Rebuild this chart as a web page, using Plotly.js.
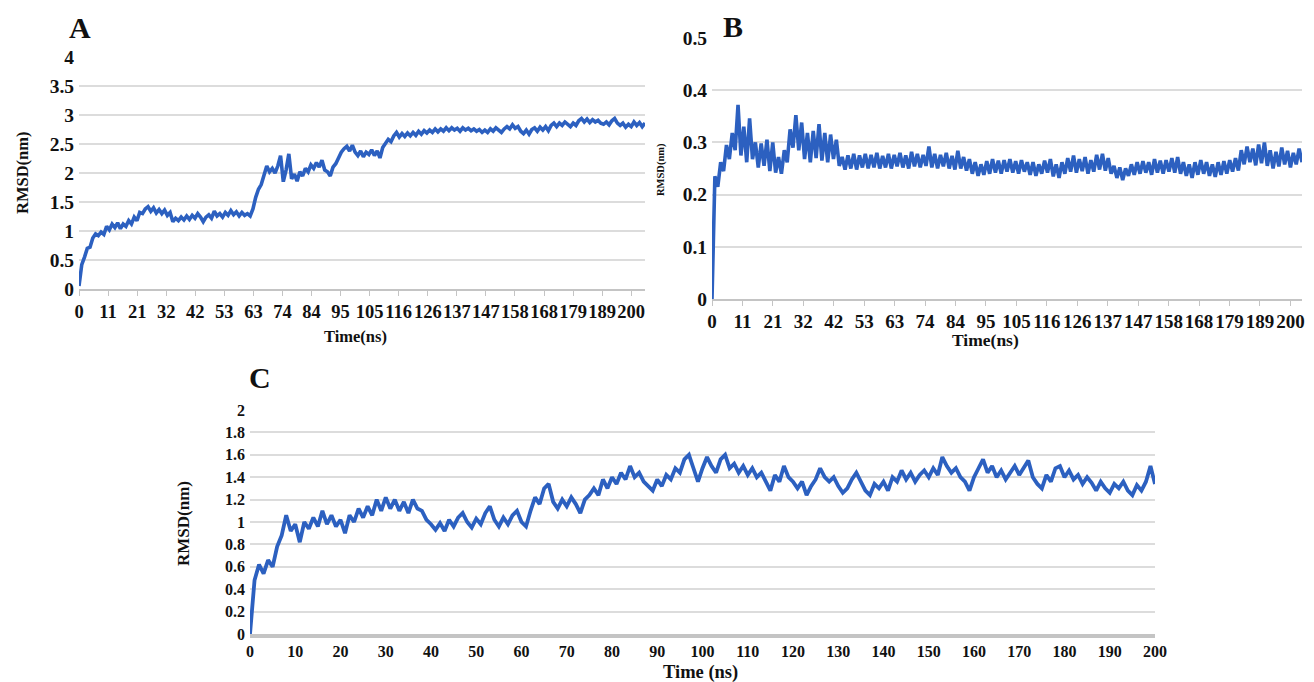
<!DOCTYPE html>
<html>
<head>
<meta charset="utf-8">
<script src="https://cdn.plot.ly/plotly-3.0.1.min.js"></script>
<style>html,body{margin:0;padding:0;background:#fff;}#chart{width:1314px;height:682px;}</style>
</head>
<body>
<div id="chart"></div>
<script>
// ---- Data (RMSD in nm, one value per ns) ----
const stepNs = 1;
const rmsdA = [0.05,0.42,0.55,0.70,0.72,0.88,0.95,0.92,0.98,0.94,1.08,1.02,1.12,1.06,1.14,1.04,1.12,1.08,1.18,1.12,
1.24,1.18,1.32,1.30,1.38,1.42,1.34,1.40,1.31,1.37,1.30,1.36,1.27,1.32,1.16,1.22,1.18,1.24,1.19,1.26,
1.20,1.27,1.22,1.30,1.24,1.16,1.24,1.28,1.22,1.34,1.26,1.30,1.24,1.32,1.27,1.35,1.28,1.33,1.26,1.32,
1.27,1.30,1.26,1.38,1.58,1.72,1.80,1.95,2.12,2.02,2.08,2.00,2.12,2.30,1.85,2.05,2.33,1.90,1.98,1.86,
2.02,1.95,2.08,2.02,2.14,2.08,2.18,2.10,2.22,2.05,2.02,1.95,2.10,2.16,2.28,2.36,2.42,2.46,2.38,2.48,
2.36,2.30,2.38,2.28,2.36,2.32,2.40,2.30,2.38,2.26,2.44,2.50,2.58,2.54,2.64,2.70,2.62,2.68,2.63,2.69,
2.64,2.70,2.65,2.72,2.67,2.73,2.69,2.74,2.70,2.76,2.71,2.76,2.72,2.78,2.73,2.78,2.74,2.77,2.72,2.78,
2.74,2.77,2.73,2.76,2.72,2.75,2.70,2.74,2.70,2.76,2.72,2.78,2.74,2.70,2.76,2.80,2.76,2.83,2.77,2.80,
2.72,2.68,2.74,2.67,2.75,2.78,2.72,2.79,2.74,2.80,2.73,2.82,2.86,2.80,2.86,2.82,2.88,2.84,2.80,2.86,
2.82,2.90,2.94,2.88,2.93,2.87,2.92,2.88,2.91,2.86,2.84,2.88,2.83,2.90,2.94,2.86,2.82,2.86,2.79,2.84,
2.80,2.88,2.82,2.87,2.80,2.86];

const rmsdB = [0,0.235,0.215,0.262,0.245,0.295,0.268,0.318,0.285,0.372,0.275,0.330,0.262,0.346,0.268,0.300,0.252,0.298,0.255,0.305,
0.245,0.300,0.242,0.272,0.240,0.285,0.262,0.325,0.290,0.352,0.285,0.338,0.268,0.318,0.262,0.322,0.270,0.335,0.265,0.318,
0.262,0.315,0.268,0.305,0.255,0.272,0.248,0.275,0.250,0.278,0.248,0.275,0.252,0.278,0.250,0.276,0.252,0.280,0.250,0.274,
0.252,0.278,0.250,0.276,0.254,0.280,0.252,0.275,0.250,0.282,0.254,0.278,0.252,0.276,0.255,0.292,0.252,0.278,0.250,0.276,
0.254,0.280,0.250,0.274,0.248,0.284,0.250,0.272,0.246,0.268,0.240,0.262,0.236,0.258,0.238,0.264,0.240,0.268,0.242,0.265,
0.240,0.266,0.244,0.268,0.242,0.264,0.240,0.266,0.244,0.262,0.238,0.262,0.236,0.258,0.240,0.265,0.242,0.268,0.235,0.258,
0.232,0.262,0.240,0.270,0.244,0.275,0.242,0.268,0.245,0.272,0.240,0.266,0.244,0.276,0.248,0.278,0.246,0.270,0.240,0.255,
0.232,0.252,0.228,0.250,0.236,0.258,0.238,0.262,0.240,0.264,0.242,0.262,0.238,0.268,0.242,0.265,0.240,0.266,0.244,0.270,
0.242,0.272,0.240,0.262,0.236,0.258,0.232,0.262,0.238,0.266,0.240,0.262,0.236,0.258,0.234,0.262,0.238,0.264,0.240,0.266,
0.244,0.270,0.246,0.285,0.258,0.292,0.262,0.288,0.256,0.296,0.260,0.300,0.255,0.285,0.250,0.282,0.254,0.290,0.258,0.284,
0.252,0.280,0.258,0.288,0.262];

const rmsdC = [0.00,0.48,0.62,0.54,0.66,0.60,0.78,0.88,1.06,0.92,0.98,0.82,1.00,0.94,1.04,0.96,1.10,0.98,1.06,0.96,
1.02,0.90,1.06,1.00,1.12,1.04,1.14,1.06,1.20,1.10,1.22,1.12,1.20,1.10,1.18,1.08,1.20,1.12,1.10,1.02,
0.98,0.93,0.99,0.92,1.02,0.96,1.04,1.08,1.00,0.95,1.03,0.98,1.08,1.14,1.02,0.96,1.04,0.98,1.06,1.10,
1.00,0.96,1.10,1.22,1.16,1.30,1.34,1.18,1.12,1.20,1.14,1.22,1.16,1.08,1.20,1.24,1.30,1.24,1.38,1.30,
1.40,1.34,1.44,1.38,1.50,1.40,1.44,1.36,1.32,1.28,1.38,1.32,1.42,1.38,1.48,1.44,1.56,1.60,1.48,1.36,
1.48,1.58,1.50,1.44,1.56,1.60,1.48,1.52,1.44,1.50,1.42,1.48,1.40,1.44,1.36,1.28,1.42,1.36,1.50,1.40,
1.36,1.30,1.36,1.24,1.32,1.38,1.48,1.40,1.36,1.40,1.32,1.26,1.30,1.38,1.44,1.36,1.28,1.24,1.34,1.30,
1.36,1.28,1.40,1.36,1.46,1.38,1.44,1.36,1.42,1.46,1.40,1.48,1.42,1.58,1.50,1.44,1.48,1.40,1.36,1.28,
1.40,1.48,1.56,1.44,1.50,1.40,1.46,1.38,1.44,1.50,1.42,1.48,1.55,1.40,1.34,1.30,1.42,1.36,1.48,1.50,
1.40,1.46,1.38,1.42,1.34,1.40,1.35,1.28,1.36,1.30,1.26,1.34,1.30,1.36,1.28,1.24,1.33,1.28,1.36,1.50,
1.34];

// Tick labels
const xLabelsAB = ["0","11","21","32","42","53","63","74","84","95","105","116","126","137","147","158","168","179","189","200"];
const xTicksC = [0,10,20,30,40,50,60,70,80,90,100,110,120,130,140,150,160,170,180,190,200];
const yTicksA = [0,0.5,1,1.5,2,2.5,3,3.5,4];
const yTicksB = [0,0.1,0.2,0.3,0.4,0.5];
const yTicksC = [0,0.2,0.4,0.6,0.8,1,1.2,1.4,1.6,1.8,2];

// ---- Build ----
const timeOf = arr => arr.map((_, i) => i * stepNs);
const labelPos = xLabelsAB.map((_, i) => i * 200 / (xLabelsAB.length - 1));

const lineColor = '#2c60c0';
const serif = 'Liberation Serif, Times New Roman, serif';
const W = 1314, H = 682;
const px = v => v / W, py = v => 1 - v / H;

const traces = [
  {x: timeOf(rmsdA), y: rmsdA, xaxis: 'x', yaxis: 'y', mode: 'lines', line: {color: lineColor, width: 3.6}},
  {x: timeOf(rmsdB), y: rmsdB, xaxis: 'x2', yaxis: 'y2', mode: 'lines', line: {color: lineColor, width: 3.6}},
  {x: timeOf(rmsdC), y: rmsdC, xaxis: 'x3', yaxis: 'y3', mode: 'lines', line: {color: lineColor, width: 3.8}}
];

const gridCol = '#dcdcdc';
function yAxis(dom, ticks, range, size, anchor) {
  return {
    domain: dom, range: range, anchor: anchor, tickmode: 'array', tickvals: ticks,
    ticktext: ticks.map(String), showgrid: true, gridcolor: gridCol, gridwidth: 2,
    zeroline: false, showline: false, ticks: '', fixedrange: true, ticklabelstandoff: 4,
    tickfont: {family: serif, size: size, color: '#111', weight: 'bold'}
  };
}
function xAxis(dom, tickvals, ticktext, range, size, anchor, tickmarks, lineW) {
  return {
    domain: dom, range: range, anchor: anchor, tickmode: 'array', tickvals: tickvals, ticktext: ticktext,
    tickangle: 0, showgrid: false, zeroline: false, showline: true, linecolor: '#c4c4c4', linewidth: lineW,
    ticks: tickmarks ? 'outside' : '', ticklen: 5, tickcolor: '#c4c4c4', tickwidth: 1,
    tickfont: {family: serif, size: size, color: '#111', weight: 'bold'}, fixedrange: true
  };
}
function note(text, x, y, size, angle) {
  return {text: text, x: px(x), y: py(y), xref: 'paper', yref: 'paper', xanchor: 'center', yanchor: 'middle',
          showarrow: false, textangle: angle || 0, font: {family: serif, size: size, color: '#111', weight: 'bold'}};
}

const layout = {
  width: W, height: H, margin: {l: 0, r: 0, t: 0, b: 0},
  paper_bgcolor: '#fff', plot_bgcolor: '#fff', showlegend: false,
  xaxis: xAxis([px(79), px(645)], labelPos, xLabelsAB, [0, 205], 18.5, 'y', true, 1.5),
  yaxis: yAxis([py(289), py(57)], yTicksA, [0, 4], 19.5, 'x'),
  xaxis2: xAxis([px(712), px(1302)], labelPos, xLabelsAB, [0, 204], 19, 'y2', true, 1.5),
  yaxis2: yAxis([py(299), py(38)], yTicksB, [0, 0.5], 19.5, 'x2'),
  xaxis3: xAxis([px(250), px(1155)], xTicksC, xTicksC.map(String), [0, 200], 16, 'y3', false, 3.5),
  yaxis3: yAxis([py(634), py(410)], yTicksC, [0, 2], 16, 'x3'),
  annotations: [
    note('A', 80, 28, 30),
    note('B', 733, 27, 30),
    note('C', 260, 378, 30),
    note('RMSD(nm)', 22, 173, 16.5, -90),
    note('Time(ns)', 355, 336, 16.5),
    note('RMSD(nm)', 661, 170, 10.5, -90),
    note('Time(ns)', 985, 340, 17.5),
    note('RMSD(nm)', 183, 524, 17, -90),
    note('Time (ns)', 700, 672, 18.5)
  ]
};

Plotly.newPlot('chart', traces, layout, {displayModeBar: false, staticPlot: true});
</script>
</body>
</html>
